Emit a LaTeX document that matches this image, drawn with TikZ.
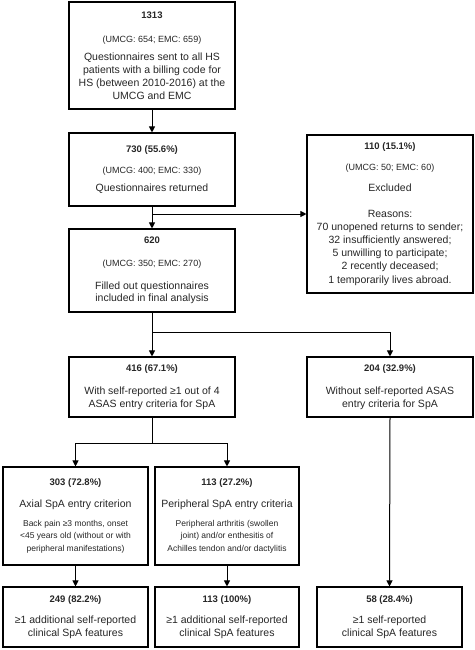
\documentclass[tikz,border=0pt]{standalone}
\usepackage{fontspec}
\setmainfont{Liberation Sans}
\usetikzlibrary{arrows.meta}

\newcommand\hdfont{\fontsize{9.5}{11}\selectfont\bfseries}
\newcommand\smfont{\fontsize{9}{11}\selectfont}
\newcommand\tnfont{\fontsize{8.5}{13}\selectfont}

\tikzset{
    flowbox/.style={draw, line width=1.1pt, align=center, inner sep=0pt,
        text=black!85, font=\fontsize{10.5}{12.8}\selectfont},
    flowline/.style={line width=1pt},
    flowarrow/.style={line width=1pt, -{Triangle[length=6pt,width=6pt]}}
}

\begin{document}
\begin{tikzpicture}[x=1pt,y=-1pt]
\useasboundingbox (0,0) rectangle (474,650);

% Main column
\node[flowbox, minimum width=166pt, minimum height=107pt] (sent) at (152,55.5)
    {{\hdfont 1313}\\[11pt]{\smfont (UMCG: 654; EMC: 659)}\\[6pt]
     Questionnaires sent to all HS\\patients with a billing code for\\HS (between 2010-2016) at the\\UMCG and EMC};
\node[flowbox, minimum width=166pt, minimum height=73pt] (returned) at (152,169.5)
    {{\hdfont 730 (55.6\%)}\\[9pt]{\smfont (UMCG: 400; EMC: 330)}\\[5pt]Questionnaires returned};
\node[flowbox, minimum width=166pt, minimum height=83pt] (analysed) at (152,270.5)
    {{\hdfont 620}\\[10pt]{\smfont (UMCG: 350; EMC: 270)}\\[10pt]Filled out questionnaires\\included in final analysis};
\node[flowbox, minimum width=166pt, minimum height=158pt, font=\fontsize{10.5}{13.2}\selectfont] (excluded) at (390,214)
    {{\hdfont 110 (15.1\%)}\\[8pt]{\smfont (UMCG: 50; EMC: 60)}\\[8pt]Excluded\\[12pt]
     Reasons:\\70 unopened returns to sender;\\32 insufficiently answered;\\5 unwilling to participate;\\2 recently deceased;\\1 temporarily lives abroad.};

% ASAS split
\node[flowbox, minimum width=166pt, minimum height=60pt] (withasas) at (152,387)
    {{\hdfont 416 (67.1\%)}\\[10pt]With self-reported ≥1 out of 4\\ASAS entry criteria for SpA};
\node[flowbox, minimum width=166pt, minimum height=60pt] (noasas) at (390,387)
    {{\hdfont 204 (32.9\%)}\\[10pt]Without self-reported ASAS\\entry criteria for SpA};

% Entry criteria
\node[flowbox, minimum width=145pt, minimum height=98pt] (axial) at (75.5,516)
    {{\hdfont 303 (72.8\%)}\\[9pt]Axial SpA entry criterion\\[6pt]
     {\tnfont Back pain ≥3 months, onset}\\{\tnfont \textless45 years old (without or with}\\{\tnfont peripheral manifestations)}};
\node[flowbox, minimum width=144pt, minimum height=98pt] (periph) at (227,516)
    {{\hdfont 113 (27.2\%)}\\[9pt]Peripheral SpA entry criteria\\[6pt]
     {\tnfont Peripheral arthritis (swollen}\\{\tnfont joint) and/or enthesitis of}\\{\tnfont Achilles tendon and/or dactylitis}};

% Clinical features
\node[flowbox, minimum width=145pt, minimum height=60pt] (axialfeat) at (75.5,617)
    {{\hdfont 249 (82.2\%)}\\[9pt]≥1 additional self-reported\\clinical SpA features};
\node[flowbox, minimum width=144pt, minimum height=60pt] (periphfeat) at (227,617)
    {{\hdfont 113 (100\%)}\\[9pt]≥1 additional self-reported\\clinical SpA features};
\node[flowbox, minimum width=145pt, minimum height=60pt] (noasasfeat) at (389.5,617)
    {{\hdfont 58 (28.4\%)}\\[9pt]≥1 self-reported\\clinical SpA features};

% Connectors
\draw[flowarrow] (sent) -- (returned);
\draw[flowarrow] (returned) -- (analysed);
\draw[flowarrow] (returned.south |- excluded.west) -- (excluded.west);

\coordinate (split) at (152,332);
\draw[flowline] (analysed.south) -- (split);
\draw[flowarrow] (split) -- (withasas.north);
\draw[flowarrow] (split) -| (noasas.north);

\coordinate (crit) at (152,443);
\draw[flowline] (withasas.south) -- (crit);
\draw[flowarrow] (crit) -| (axial.north);
\draw[flowarrow] (crit) -| (periph.north);

\draw[flowarrow] (axial) -- (axialfeat);
\draw[flowarrow] (periph) -- (periphfeat);
\draw[flowarrow] (noasas.south) -- (noasasfeat.north);

\end{tikzpicture}
\end{document}
